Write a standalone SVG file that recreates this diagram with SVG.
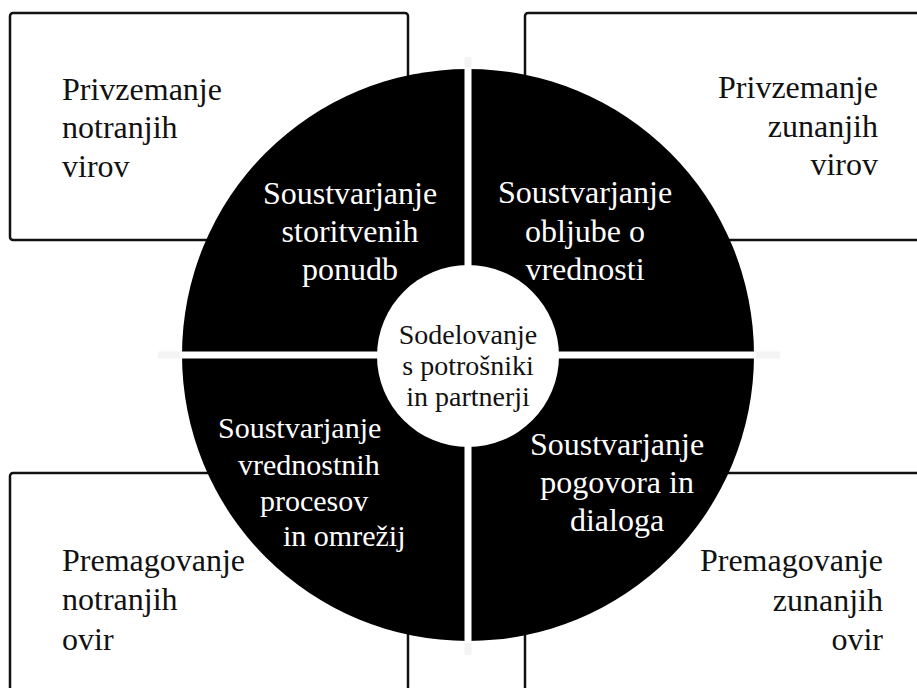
<svg xmlns="http://www.w3.org/2000/svg" width="917" height="688" viewBox="0 0 917 688">
<style>
.box{fill:#fff;stroke:#111;stroke-width:2.5}
.t{font-family:"Liberation Serif","Times New Roman",serif;font-size:32px;fill:#111}
.w{font-family:"Liberation Serif","Times New Roman",serif;font-size:32px;fill:#fff;text-anchor:middle}
.c{font-family:"Liberation Serif","Times New Roman",serif;font-size:28px;fill:#111;text-anchor:middle}
.e{text-anchor:end}
</style>
<rect width="917" height="688" fill="#fff"/>
<g id="box-tl">
<rect class="box" x="10" y="13" width="398" height="227" rx="3"/>
<text class="t" x="62" y="100">Privzemanje</text>
<text class="t" x="62" y="138">notranjih</text>
<text class="t" x="62" y="177">virov</text>
</g>
<g id="box-tr">
<rect class="box" x="525" y="13" width="420" height="227" rx="3"/>
<text class="t e" x="878" y="98">Privzemanje</text>
<text class="t e" x="878" y="137">zunanjih</text>
<text class="t e" x="878" y="175">virov</text>
</g>
<g id="box-bl">
<rect class="box" x="10" y="473" width="398" height="240" rx="3"/>
<text class="t" x="62" y="571">Premagovanje</text>
<text class="t" x="62" y="610">notranjih</text>
<text class="t" x="62" y="650">ovir</text>
</g>
<g id="box-br">
<rect class="box" x="525" y="473" width="420" height="240" rx="3"/>
<text class="t e" x="883" y="571">Premagovanje</text>
<text class="t e" x="883" y="611">zunanjih</text>
<text class="t e" x="883" y="650">ovir</text>
</g>
<g id="connectors">
<line x1="158" y1="355" x2="780" y2="355" stroke="#f4f4f4" stroke-width="7"/>
<line x1="468" y1="57" x2="468" y2="655" stroke="#f4f4f4" stroke-width="7"/>
</g>
<g id="ring">
<circle cx="468" cy="355" r="286" fill="#000"/>
<line x1="180" y1="355" x2="756" y2="355" stroke="#fff" stroke-width="7"/>
<line x1="468" y1="67" x2="468" y2="643" stroke="#fff" stroke-width="7"/>
</g>
<g id="q-tl">
<text class="w" x="350" y="204">Soustvarjanje</text>
<text class="w" x="350" y="242">storitvenih</text>
<text class="w" x="350" y="280">ponudb</text>
</g>
<g id="q-tr">
<text class="w" x="585" y="203">Soustvarjanje</text>
<text class="w" x="585" y="242">obljube o</text>
<text class="w" x="585" y="280">vrednosti</text>
</g>
<g id="q-bl">
<text class="w" x="218" y="438" style="text-anchor:start;font-size:30px">Soustvarjanje</text>
<text class="w" x="238" y="475" style="text-anchor:start;font-size:30px">vrednostnih</text>
<text class="w" x="260" y="511" style="text-anchor:start;font-size:30px">procesov</text>
<text class="w" x="283" y="546" style="text-anchor:start;font-size:30px">in omrežij</text>
</g>
<g id="q-br">
<text class="w" x="617" y="455">Soustvarjanje</text>
<text class="w" x="617" y="493">pogovora in</text>
<text class="w" x="617" y="531">dialoga</text>
</g>
<g id="center">
<circle cx="468" cy="356" r="91" fill="#fff"/>
<text class="c" x="468" y="344">Sodelovanje</text>
<text class="c" x="468" y="375">s potrošniki</text>
<text class="c" x="468" y="406">in partnerji</text>
</g>
</svg>
